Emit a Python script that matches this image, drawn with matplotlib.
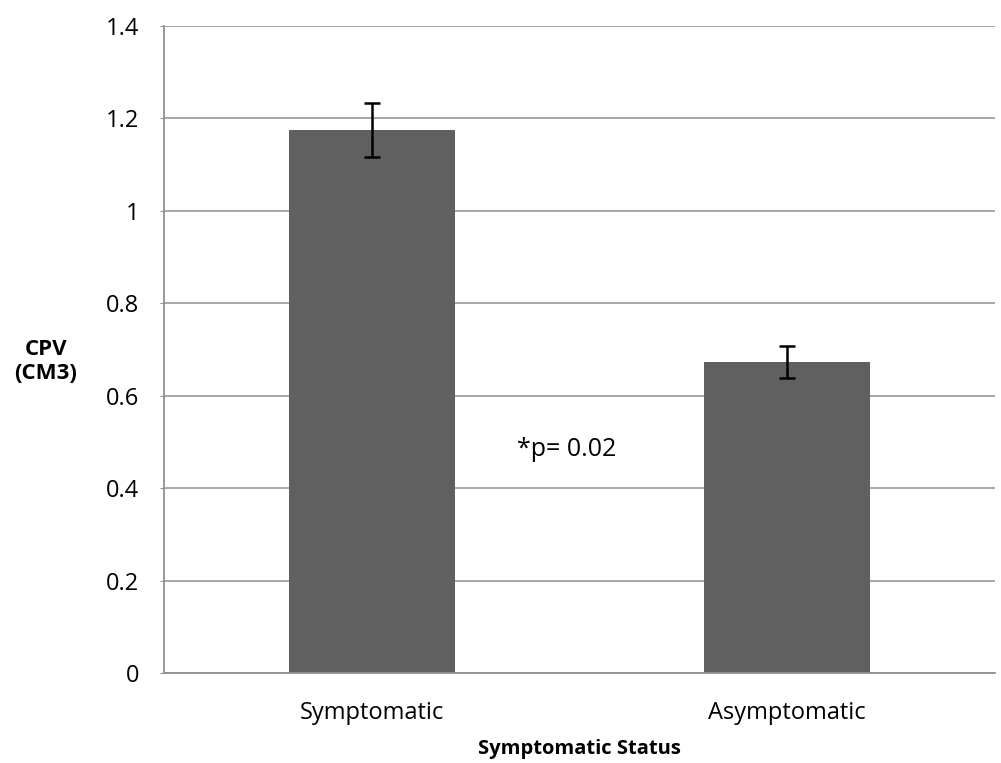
import matplotlib.pyplot as plt

plt.rcParams["font.family"] = ["Open Sans", "DejaVu Sans"]

groups = ['Symptomatic', 'Asymptomatic']
cpv = [1.175, 0.673]
cpv_err = [0.058, 0.034]
yticks = [0, 0.2, 0.4, 0.6, 0.8, 1, 1.2, 1.4]
yticklabels = ['0', '0.2', '0.4', '0.6', '0.8', '1', '1.2', '1.4']

fig = plt.figure(figsize=(10.01, 7.63), dpi=100)
ax = fig.add_axes([164 / 1001, 1 - 673 / 763, 831 / 1001, 647 / 763])

x = range(len(groups))
ax.bar(x, cpv, width=0.4, color='#606060', zorder=2,
       yerr=cpv_err, error_kw={'ecolor': 'black', 'elinewidth': 1.8, 'capsize': 6, 'capthick': 1.8})

ax.set_xlim(-0.5, 1.5)
ax.set_ylim(0, 1.4)
ax.set_yticks(yticks)
ax.set_yticklabels(yticklabels)
ax.set_xticks(list(x))
ax.set_xticklabels(groups)
ax.yaxis.grid(True, color='#a0a0a0', linewidth=1.3, zorder=0)
ax.set_axisbelow(True)
for side in ['top', 'right']:
    ax.spines[side].set_visible(False)
for side in ['left', 'bottom']:
    ax.spines[side].set_color('#909090')
    ax.spines[side].set_linewidth(1.3)
ax.tick_params(axis='y', length=3, color='#909090', labelsize=17, pad=15)
ax.tick_params(axis='x', length=0, labelsize=17, pad=20)

ax.text(0.47, 0.483, '*p= 0.02', fontsize=18, ha='center', va='center')
ax.set_ylabel('CPV\n(CM3)', fontsize=16, fontweight='bold', rotation=0, ha='center', va='center')
ax.yaxis.set_label_coords(-0.142, 0.482)
ax.set_xlabel('Symptomatic Status', fontsize=14.5, fontweight='bold', va='center')
ax.xaxis.set_label_coords(0.5, -0.118)

plt.savefig('out.png', dpi=100)
